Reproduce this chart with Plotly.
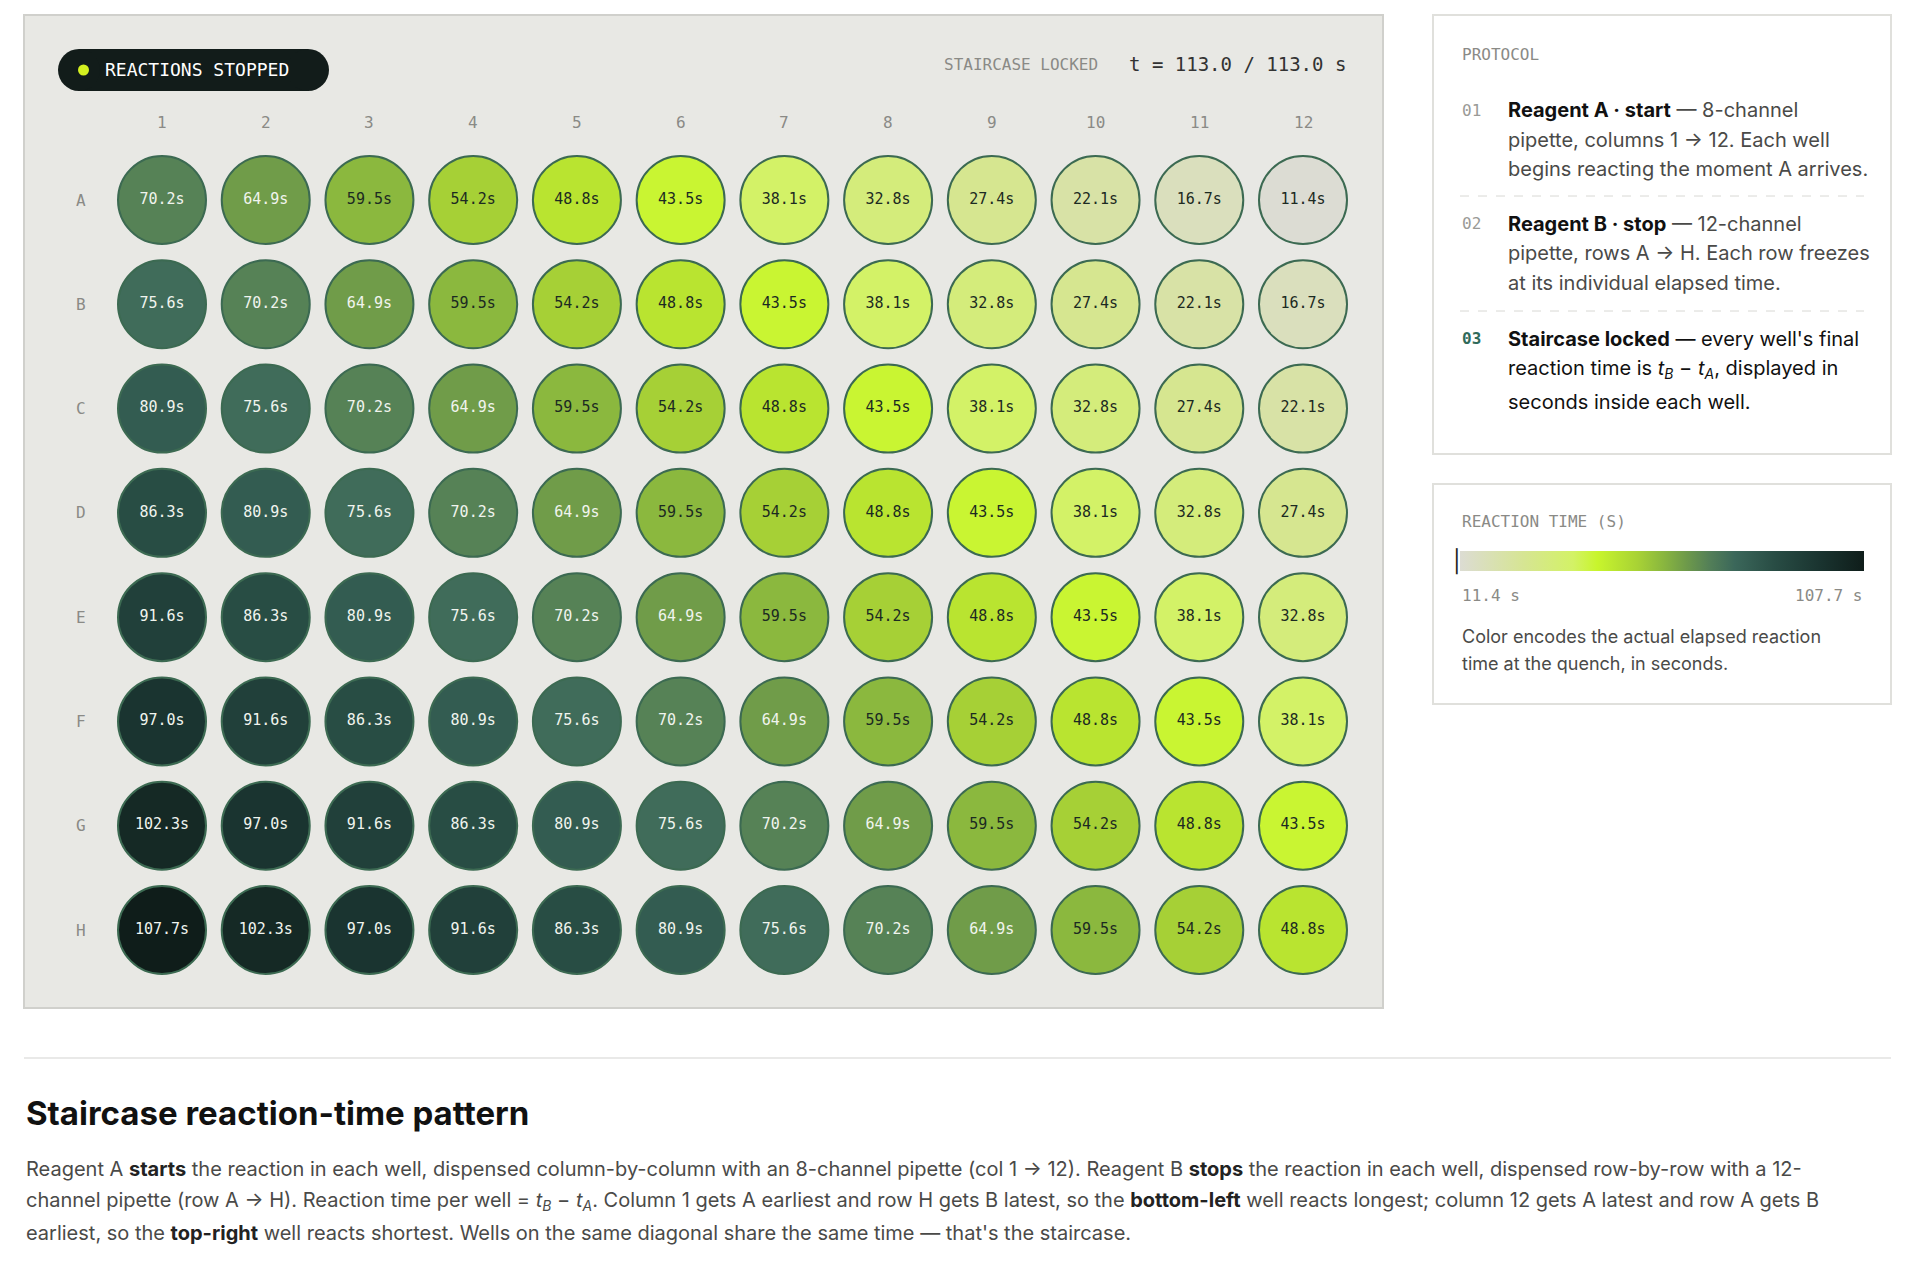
import plotly.graph_objects as go

rows = ["A", "B", "C", "D", "E", "F", "G", "H"]
cols = [str(i) for i in range(1, 13)]
times = [
    [70.2, 64.9, 59.5, 54.2, 48.8, 43.5, 38.1, 32.8, 27.4, 22.1, 16.7, 11.4],
    [75.6, 70.2, 64.9, 59.5, 54.2, 48.8, 43.5, 38.1, 32.8, 27.4, 22.1, 16.7],
    [80.9, 75.6, 70.2, 64.9, 59.5, 54.2, 48.8, 43.5, 38.1, 32.8, 27.4, 22.1],
    [86.3, 80.9, 75.6, 70.2, 64.9, 59.5, 54.2, 48.8, 43.5, 38.1, 32.8, 27.4],
    [91.6, 86.3, 80.9, 75.6, 70.2, 64.9, 59.5, 54.2, 48.8, 43.5, 38.1, 32.8],
    [97.0, 91.6, 86.3, 80.9, 75.6, 70.2, 64.9, 59.5, 54.2, 48.8, 43.5, 38.1],
    [102.3, 97.0, 91.6, 86.3, 80.9, 75.6, 70.2, 64.9, 59.5, 54.2, 48.8, 43.5],
    [107.7, 102.3, 97.0, 91.6, 86.3, 80.9, 75.6, 70.2, 64.9, 59.5, 54.2, 48.8],
]
tmin, tmax = 11.4, 107.7

W, H = 1920, 1267
OFF = 8  # page body margin
MONO = "DejaVu Sans Mono"
SANS = "Inter"

cscale = [
    [0.0, "#dcdcd3"], [0.16, "#d6e592"], [0.28, "#d3f266"], [0.34, "#c8f52c"],
    [0.44, "#a8d235"], [0.50, "#8bb83e"], [0.56, "#6e9a4a"], [0.62, "#527e58"],
    [0.68, "#3b675a"], [0.78, "#284c44"], [0.89, "#1a3430"], [1.0, "#0f1d1a"],
]

xs, ys, zs, txt, tcol = [], [], [], [], []
for r, row in enumerate(rows):
    for c, col in enumerate(cols):
        v = times[r][c]
        xs.append(c + 1); ys.append(r + 1); zs.append(v)
        txt.append(f"{v:.1f}s")
        tcol.append("#f0f4ee" if v > 62 else "#1c2a22")

px_c1, px_c12, px_rA, px_rH = 162 - OFF, 1303 - OFF, 200 - OFF, 930 - OFF
ux = 11 / (px_c12 - px_c1)
uy = 7 / (px_rH - px_rA)
x0 = 1 - px_c1 * ux
y0 = 1 - px_rA * uy

def px(x): return (x - OFF) / W
def py(y): return 1 - (y - OFF) / H

fig = go.Figure()
fig.add_trace(go.Scatter(
    x=xs, y=ys, mode="markers+text", text=txt,
    textfont=dict(family=MONO, size=15, color=tcol),
    marker=dict(size=88, color=zs, colorscale=cscale, cmin=tmin, cmax=tmax,
                line=dict(color="#3c6a52", width=2),
                colorbar=dict(orientation="h", x=px(1460), xanchor="left",
                              y=py(561), yanchor="middle", len=404, xpad=0, ypad=0,
                              lenmode="pixels", thickness=20, outlinewidth=0,
                              showticklabels=False, ticks="")),
    hoverinfo="skip", showlegend=False,
))

fig.update_xaxes(range=[x0, x0 + W * ux], visible=False, fixedrange=True)
fig.update_yaxes(range=[y0 + H * uy, y0], visible=False, fixedrange=True)

def R(xa, xb, ya, yb, **kw):
    d = dict(type="rect", xref="paper", yref="paper", x0=px(xa), x1=px(xb), y0=py(ya), y1=py(yb))
    d.update(kw); return d

shapes = [
    R(24, 1383, 15, 1008, fillcolor="#e8e8e4", line=dict(color="#d0d0cc", width=2), layer="below"),
    R(1433, 1891, 15, 454, fillcolor="#ffffff", line=dict(color="#e0e0dc", width=2), layer="below"),
    R(1433, 1891, 484, 704, fillcolor="#ffffff", line=dict(color="#e0e0dc", width=2), layer="below"),
    R(79, 308, 49, 91, fillcolor="#121c1a", line=dict(width=0), layer="below"),
    dict(type="circle", xref="paper", yref="paper", x0=px(78), x1=px(89), y0=py(64.5), y1=py(75.5),
         fillcolor="#d4f020", line=dict(width=0)),
    dict(type="line", xref="paper", yref="paper", x0=px(1460), x1=px(1864), y0=py(196), y1=py(196),
         line=dict(color="#d8d8d4", width=1, dash="dash")),
    dict(type="line", xref="paper", yref="paper", x0=px(1460), x1=px(1864), y0=py(311), y1=py(311),
         line=dict(color="#d8d8d4", width=1, dash="dash")),
    dict(type="line", xref="paper", yref="paper", x0=px(24), x1=px(1891), y0=py(1058), y1=py(1058),
         line=dict(color="#e2e2e0", width=1.5)),
]
for cx in (58 + 21, 329 - 21):
    shapes.append(dict(type="circle", xref="paper", yref="paper", x0=px(cx - 21), x1=px(cx + 21),
                       y0=py(49), y1=py(91), fillcolor="#121c1a", line=dict(width=0), layer="below"))

ann = []
def A(x, y, text, size, color, family=SANS, xanchor="left"):
    ann.append(dict(x=px(x), y=py(y), xref="paper", yref="paper", text=text, showarrow=False,
                    xanchor=xanchor, yanchor="middle", align="left",
                    font=dict(family=family, size=size, color=color)))

A(1462, 561, "▏", 22, "#222222", MONO, xanchor="center")

A(103, 70, "REACTIONS STOPPED", 18, "#ffffff", MONO)
A(1100, 64, "STAIRCASE LOCKED", 16, "#8a8a86", MONO, xanchor="right")
A(1348, 64, "t = 113.0 / 113.0 s", 19, "#333333", MONO, xanchor="right")
for i, c in enumerate(cols):
    ann.append(dict(x=i + 1, y=py(123), xref="x", yref="paper", text=c, showarrow=False,
                    xanchor="center", yanchor="middle",
                    font=dict(family=MONO, size=16, color="#8a8a86")))
for i, r in enumerate(rows):
    ann.append(dict(x=px(81), y=i + 1, xref="paper", yref="y", text=r, showarrow=False,
                    xanchor="center", yanchor="middle",
                    font=dict(family=MONO, size=16, color="#8a8a86")))

A(1460, 54, "PROTOCOL", 16, "#8a8a86", MONO)
G = "#4a4a48"
A(1460, 110, "01", 16, "#9a9a96", MONO)
A(1506, 110, "<b style='color:#111'>Reagent A · start</b> — 8-channel", 20, G)
A(1506, 140, "pipette, columns 1 → 12. Each well", 20, G)
A(1506, 169, "begins reacting the moment A arrives.", 20, G)
A(1460, 224, "02", 16, "#9a9a96", MONO)
A(1506, 224, "<b style='color:#111'>Reagent B · stop</b> — 12-channel", 20, G)
A(1506, 253, "pipette, rows A → H. Each row freezes", 20, G)
A(1506, 283, "at its individual elapsed time.", 20, G)
A(1460, 339, "<b>03</b>", 16, "#2f6a5a", MONO)
A(1506, 339, "<b>Staircase locked</b> — every well's final", 20, "#111111")
A(1506, 369, "reaction time is <i>t</i><sub><i>B</i></sub> − <i>t</i><sub><i>A</i></sub>, displayed in", 20, "#111111")
A(1506, 402, "seconds inside each well.", 20, "#111111")

A(1460, 522, "REACTION TIME (S)", 16, "#8a8a86", MONO)
A(1460, 595, "11.4 s", 16, "#8a8a86", MONO)
A(1864, 595, "107.7 s", 16, "#8a8a86", MONO, xanchor="right")
A(1460, 637, "Color encodes the actual elapsed reaction", 18, G)
A(1460, 664, "time at the quench, in seconds.", 18, G)

A(24, 1113, "<b>Staircase reaction-time pattern</b>", 33, "#111111")
B = "#4a4a48"
A(24, 1169, "Reagent A <b style='color:#222'>starts</b> the reaction in each well, dispensed column-by-column with an 8-channel pipette (col 1 → 12). Reagent B <b style='color:#222'>stops</b> the reaction in each well, dispensed row-by-row with a 12-", 20, B)
A(24, 1201, "channel pipette (row A → H). Reaction time per well = <i>t</i><sub><i>B</i></sub> − <i>t</i><sub><i>A</i></sub>. Column 1 gets A earliest and row H gets B latest, so the <b style='color:#222'>bottom-left</b> well reacts longest; column 12 gets A latest and row A gets B", 20, B)
A(24, 1233, "earliest, so the <b style='color:#222'>top-right</b> well reacts shortest. Wells on the same diagonal share the same time — that's the staircase.", 20, B)

fig.update_layout(width=W, height=H, margin=dict(l=0, r=0, t=0, b=0),
                  paper_bgcolor="#ffffff", plot_bgcolor="rgba(0,0,0,0)",
                  shapes=shapes, annotations=ann)
fig.write_html("out.html")
